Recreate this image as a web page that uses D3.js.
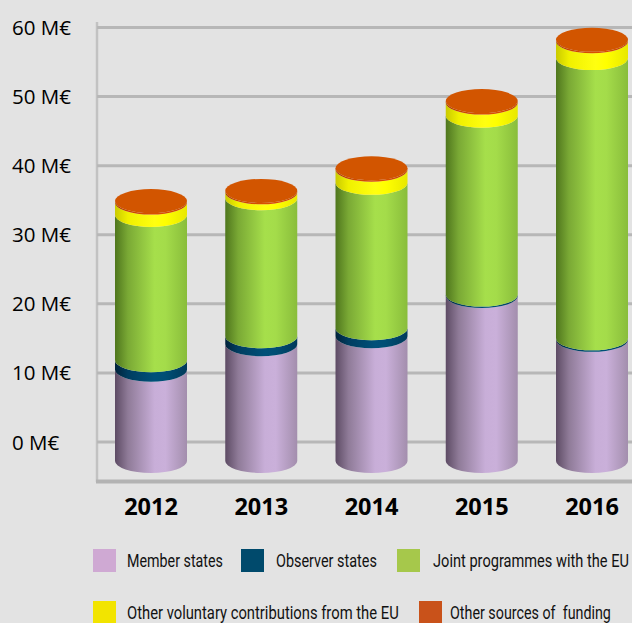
<!DOCTYPE html>
<html lang="en">
	<head>
		<meta charset="utf-8">
		<title>Funding by source 2012-2016</title>
		<script type="text/javascript" src="https://cdn.jsdelivr.net/npm/d3@7"></script>
		<style type="text/css">
			body { margin: 0; background: #e3e3e3; }
			svg { display: block; }
		</style>
	</head>
	<body>
		<script type="text/javascript">

		var w = 632;
		var h = 623;

		//data (M€)
		var years = ["2012", "2013", "2014", "2015", "2016"];
		var memberStates = [12.5, 16.0, 17.1, 22.6, 16.6];
		var observerStates = [1.3, 1.1, 1.1, 0.2, 0.2];
		var jointProgrammes = [19.9, 18.9, 19.9, 24.5, 38.4];
		var otherEU = [1.7, 0.8, 1.8, 1.8, 2.3];
		var otherSources = [0.2, 0.2, 0.2, 0.2, 0.2];
		var yTicks = [0, 10, 20, 30, 40, 50, 60];

		var seriesNames = ["Member states", "Observer states", "Joint programmes with the EU",
			"Other voluntary contributions from the EU", "Other sources of  funding"];
		var seriesValues = [memberStates, observerStates, jointProgrammes, otherEU, otherSources];

		//legend colours and cylinder shading
		var swatchColors = ["#cfa9d3", "#004a6c", "#a6c84b", "#f2e400", "#c9521a"];
		var shades = [
			["#5d4b64", "#8f7b98", "#c8aed8", "#cab0da", "#a38ead"],
			["#00223a", "#003d60", "#005079", "#004e75", "#003a5a"],
			["#4f761d", "#7aa935", "#a6df4b", "#a4dc4a", "#89bd3b"],
			["#caca00", "#f0f000", "#ffff10", "#ffff00", "#e8e800"],
			["#a83800", "#c84600", "#db5000", "#d84e00", "#c44400"]
		];

		var svg = d3.select("body")
					.append("svg")
					.attr("width", w)
					.attr("height", h);

		var defs = svg.append("defs");
		shades.forEach(function(s, i) {
			var g = defs.append("linearGradient")
						.attr("id", "grad" + i)
						.attr("x1", "0%").attr("x2", "100%")
						.attr("y1", "0%").attr("y2", "0%");
			[0, 0.18, 0.55, 0.7, 1].forEach(function(o, j) {
				g.append("stop").attr("offset", o).attr("stop-color", s[j]);
			});
		});

		//back wall scale and the front (bars) scale
		var yAxisScale = d3.scaleLinear().domain([0, 60]).range([442, 27.5]);
		var yBar = d3.scaleLinear().domain([0, 60]).range([461, 23]);
		var xScale = d3.scalePoint().domain(years).range([151, 592]);
		var rx = 36, ry = 12;

		//walls
		svg.append("line")
			.attr("x1", 97).attr("x2", 97)
			.attr("y1", 22).attr("y2", 482)
			.attr("stroke", "#c2c2c2")
			.attr("stroke-width", 2.5);

		svg.selectAll("line.grid")
			.data(yTicks)
			.enter()
			.append("line")
			.attr("class", "grid")
			.attr("x1", 97).attr("x2", w)
			.attr("y1", function(d) { return yAxisScale(d); })
			.attr("y2", function(d) { return yAxisScale(d); })
			.attr("stroke", "#b7b7b7")
			.attr("stroke-width", 3);

		svg.append("line")
			.attr("x1", 96).attr("x2", w)
			.attr("y1", 481.5).attr("y2", 481.5)
			.attr("stroke", "#b3b3b3")
			.attr("stroke-width", 4);

		svg.selectAll("text.ytick")
			.data(yTicks)
			.enter()
			.append("text")
			.attr("class", "ytick")
			.attr("x", 12)
			.attr("y", function(d) { return yAxisScale(d) + 7.5; })
			.attr("font-family", "Open Sans")
			.attr("font-size", 20.5)
			.attr("fill", "#000")
			.text(function(d) { return d + " M€"; });

		//stacked cylinders
		var stack = d3.stack().keys(d3.range(seriesValues.length))
			.value(function(d, k) { return seriesValues[k][d]; });
		var layers = stack(d3.range(years.length));

		function sidePath(x, v0, v1) {
			var y0 = yBar(v0), y1 = yBar(v1);
			return "M" + (x - rx) + "," + y1 +
				"A" + rx + "," + ry + " 0 0 0 " + (x + rx) + "," + y1 +
				"L" + (x + rx) + "," + y0 +
				"A" + rx + "," + ry + " 0 0 1 " + (x - rx) + "," + y0 + "Z";
		}

		layers.forEach(function(layer, k) {
			svg.selectAll("path.s" + k)
				.data(layer)
				.enter()
				.append("path")
				.attr("class", "s" + k)
				.attr("d", function(d, i) { return sidePath(xScale(years[i]), d[0], d[1]); })
				.attr("fill", "url(#grad" + k + ")");
		});

		var topLayer = layers[layers.length - 1];
		svg.selectAll("ellipse.cap")
			.data(topLayer)
			.enter()
			.append("ellipse")
			.attr("class", "cap")
			.attr("cx", function(d, i) { return xScale(years[i]); })
			.attr("cy", function(d) { return yBar(d[1]); })
			.attr("rx", rx)
			.attr("ry", ry)
			.attr("fill", "#d25500");

		//x labels
		svg.selectAll("text.year")
			.data(years)
			.enter()
			.append("text")
			.attr("class", "year")
			.attr("x", function(d) { return xScale(d); })
			.attr("y", 514.5)
			.attr("text-anchor", "middle")
			.attr("font-family", "Open Sans")
			.attr("font-weight", "bold")
			.attr("font-size", 23.5)
			.attr("fill", "#000")
			.text(function(d) { return d; });

		//legend (no condensed font here, so the text is scaled to the reference widths)
		var legendPos = [
			{ sx: 93, tx: 127, y: 549, len: 96 },
			{ sx: 241, tx: 276, y: 549, len: 101 },
			{ sx: 397, tx: 433, y: 549, len: 196 },
			{ sx: 93, tx: 127, y: 601, len: 272 },
			{ sx: 419, tx: 450, y: 601, len: 161 }
		];

		var legend = svg.selectAll("g.legend")
			.data(seriesNames)
			.enter()
			.append("g")
			.attr("class", "legend");

		legend.append("rect")
			.attr("x", function(d, i) { return legendPos[i].sx; })
			.attr("y", function(d, i) { return legendPos[i].y; })
			.attr("width", 23)
			.attr("height", 23)
			.attr("fill", function(d, i) { return swatchColors[i]; });

		legend.append("text")
			.attr("font-family", "Roboto, sans-serif")
			.attr("font-size", 17.5)
			.attr("fill", "#111")
			.style("white-space", "pre")
			.text(function(d) { return d; })
			.attr("transform", function(d, i) {
				var p = legendPos[i];
				var sx = p.len / this.getComputedTextLength();
				return "translate(" + p.tx + "," + (p.y + 17.5) + ") scale(" + sx + ",1)";
			});

		</script>
	</body>
</html>
